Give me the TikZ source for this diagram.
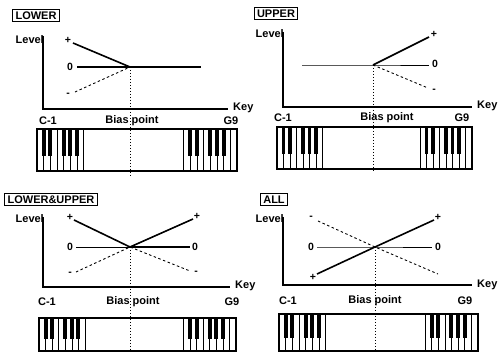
\documentclass[tikz,border=0pt]{standalone}
\usepackage{fontspec}
\setmainfont{Liberation Sans}
\newcommand\kbd[4]{% x0,y0,x1,y1
  \pgfmathsetmacro\kbw{(#3-#1)/30}
  \pgfmathsetmacro\kbh{0.64*(#4-#2)}
  \pgfmathsetmacro\kbxr{#3-8*\kbw}
  \foreach \i in {1,...,7}{\draw[keyln] ({#1+\i*\kbw},#2) -- ({#1+\i*\kbw},#4);}
  \foreach \i in {0,...,7}{\draw[keyln] ({\kbxr+\i*\kbw},#2) -- ({\kbxr+\i*\kbw},#4);}
  \foreach \i in {1,2,4,5,6}{%
    \fill ({#1+(\i-0.3)*\kbw},#2) rectangle ++({0.6*\kbw},\kbh);
    \fill ({\kbxr+(\i-0.3)*\kbw},#2) rectangle ++({0.6*\kbw},\kbh);}
  \draw[kbdframe] (#1,#2) rectangle (#3,#4);
}
\begin{document}
\begin{tikzpicture}[x=1pt,y=-1pt,
  lbl/.style={font=\fontsize{11}{12}\selectfont\bfseries, inner sep=0pt},
  tag/.style={draw, line width=1pt, font=\fontsize{11}{12}\selectfont\bfseries,
    inner xsep=3pt, inner ysep=2pt, text height=8pt, text depth=0pt},
  sym/.style={font=\fontsize{10.5}{11}\selectfont\bfseries, inner sep=0pt},
  axis/.style={line width=1.6pt},
  thickln/.style={line width=1.6pt},
  thinln/.style={line width=0.9pt},
  dashln/.style={line width=0.9pt, dash pattern=on 2.5pt off 2.5pt},
  biasln/.style={line width=0.8pt, dash pattern=on 1.5pt off 1.5pt},
  keyln/.style={line width=0.6pt},
  kbdframe/.style={line width=1.2pt},
]
\useasboundingbox (0,0) rectangle (498,352);

% ---------- Panel 1: LOWER ----------
\node[tag] (t1) at (36,16) {LOWER};
\coordinate (yt1) at (43,36);
\coordinate (xe1) at (228,109);
\draw[axis] (yt1) |- (xe1);
\node[lbl, anchor=east] (lv1) at (44,40) {Level};
\node[lbl, anchor=west] (k1) at (233,108) {Key};
\coordinate (b1) at (130,67);
\node[sym] (p1) at (68,40) {+};
\node[sym] (z1) at (70,67) {0};
\node[sym] (m1) at (68,95) {-};
\coordinate (pe1) at (73,43);
\coordinate (ze1) at (77,67);
\coordinate (me1) at (75,92);
\coordinate (zr1) at (201,67);
\draw[thickln] (pe1) -- (b1);
\draw[thickln] (ze1) -- (b1) -- (zr1);
\draw[dashln] (me1) -- (b1);
\node[lbl] (c1) at (48,121) {C-1};
\node[lbl] (bp1) at (132,121) {Bias point};
\node[lbl] (g1) at (231,121) {G9};
\kbd{37}{129}{237}{171}
\coordinate (bb1) at (130,176);
\draw[biasln] (b1) -- (bb1);

% ---------- Panel 2: UPPER ----------
\node[tag] (t2) at (276,14) {UPPER};
\coordinate (yt2) at (283,32);
\coordinate (xe2) at (472,107);
\draw[axis] (yt2) |- (xe2);
\node[lbl, anchor=east] (lv2) at (284,34) {Level};
\node[lbl, anchor=west] (k2) at (477,106) {Key};
\coordinate (b2) at (373,65);
\coordinate (zl2) at (302,65);
\coordinate (zr2) at (429,65);
\coordinate (pe2) at (429,37);
\coordinate (me2) at (428,88);
\node[sym] (p2) at (434,34) {+};
\node[sym] (z2) at (435,64) {0};
\node[sym] (m2) at (434,91) {-};
\draw[thinln] (zl2) -- (b2) -- (zr2);
\draw[thickln] (b2) -- (pe2);
\draw[dashln] (b2) -- (me2);
\node[lbl] (c2) at (283,118) {C-1};
\node[lbl] (bp2) at (387,118) {Bias point};
\node[lbl] (g2) at (462,118) {G9};
\kbd{277}{127}{472}{169}
\coordinate (bb2) at (373,173);
\draw[biasln] (b2) -- (bb2);

% ---------- Panel 3: LOWER&UPPER ----------
\node[tag] (t3) at (51,200) {LOWER\&UPPER};
\coordinate (yt3) at (43,217);
\coordinate (xe3) at (230,287);
\draw[axis] (yt3) |- (xe3);
\node[lbl, anchor=east] (lv3) at (44,219) {Level};
\node[lbl, anchor=west] (k3) at (235,286) {Key};
\coordinate (b3) at (130,247);
\node[sym] (pl3) at (70,217) {+};
\node[sym] (pr3) at (197,216) {+};
\node[sym] (zl3) at (70,247) {0};
\node[sym] (zr3) at (195,247) {0};
\node[sym] (ml3) at (70,274) {-};
\node[sym] (mr3) at (196,273) {-};
\coordinate (pel3) at (74,220);
\coordinate (per3) at (193,219);
\coordinate (zel3) at (76,247);
\coordinate (zer3) at (190,247);
\coordinate (mel3) at (76,272);
\coordinate (mer3) at (190,271);
\draw[thickln] (pel3) -- (b3) -- (per3);
\draw[thinln] (zel3) -- (b3);
\draw[thickln] (b3) -- (zer3);
\draw[dashln] (mel3) -- (b3) -- (mer3);
\node[lbl] (c3) at (47,302) {C-1};
\node[lbl] (bp3) at (133,302) {Bias point};
\node[lbl] (g3) at (232,302) {G9};
\kbd{39}{318}{236}{351}
\coordinate (bb3) at (130,352);
\draw[biasln] (b3) -- (bb3);

% ---------- Panel 4: ALL ----------
\node[tag] (t4) at (274,200) {ALL};
\coordinate (yt4) at (283,217);
\coordinate (xe4) at (472,285);
\draw[axis] (yt4) |- (xe4);
\node[lbl, anchor=east] (lv4) at (284,219) {Level};
\node[lbl, anchor=west] (k4) at (477,285) {Key};
\coordinate (b4) at (375,247);
\node[sym] (m4) at (311,218) {-};
\node[sym] (pl4) at (313,277) {+};
\node[sym] (pr4) at (438,217) {+};
\node[sym] (zl4) at (311,247) {0};
\node[sym] (zr4) at (438,247) {0};
\coordinate (mes4) at (318,221);
\coordinate (me4) at (438,274);
\coordinate (pel4) at (317,274);
\coordinate (per4) at (434,220);
\coordinate (zel4) at (317,247);
\coordinate (zer4) at (432,247);
\draw[dashln] (mes4) -- (b4) -- (me4);
\draw[thickln] (pel4) -- (b4) -- (per4);
\draw[thinln] (zel4) -- (b4) -- (zer4);
\node[lbl] (c4) at (288,301) {C-1};
\node[lbl] (bp4) at (375,301) {Bias point};
\node[lbl] (g4) at (465,301) {G9};
\kbd{279}{314}{478}{351}
\coordinate (bb4) at (375,352);
\draw[biasln] (b4) -- (bb4);
\end{tikzpicture}
\end{document}
